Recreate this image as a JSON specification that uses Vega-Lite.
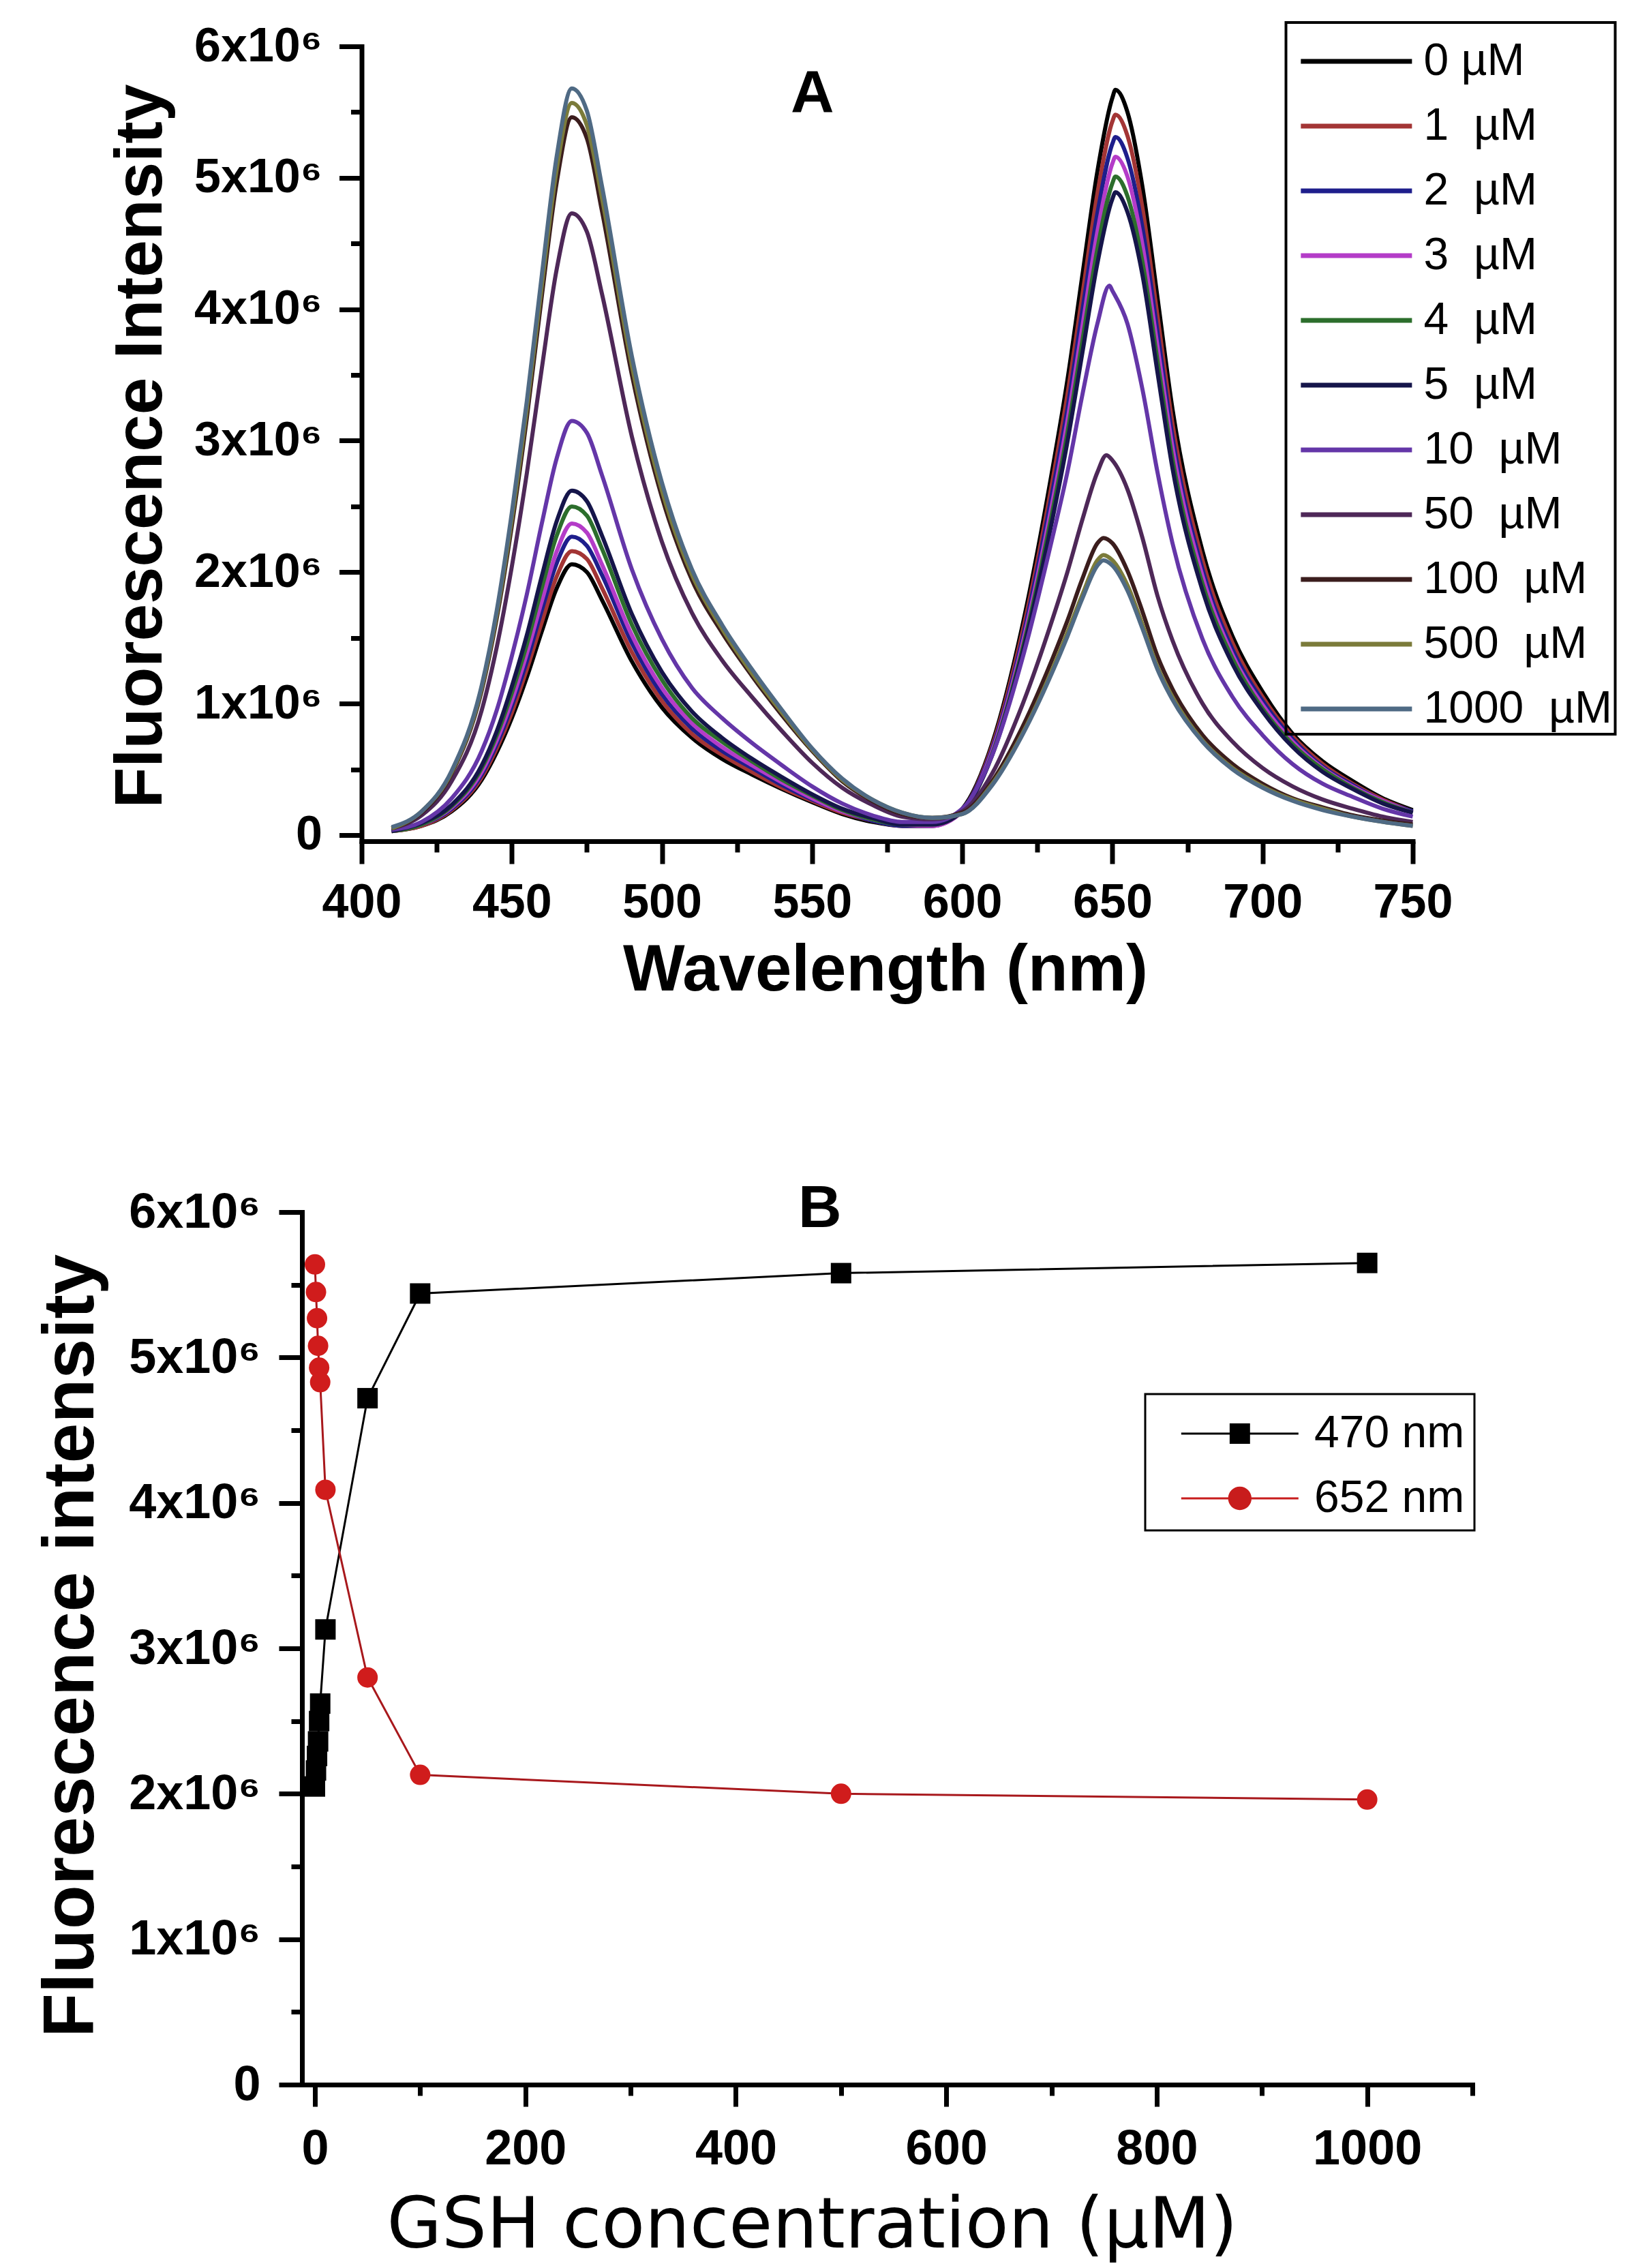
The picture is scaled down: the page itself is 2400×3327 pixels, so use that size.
{
"$schema": "https://vega.github.io/schema/vega-lite/v6.json",
"background": "white",
"padding": {"left": 51, "top": 31, "right": 0, "bottom": 30},
"autosize": {"type": "pad"},
"config": {"view": {"stroke": null}, "axis": {"grid": false, "labelColor": "black", "tickColor": "black", "domainColor": "black", "titleColor": "black"}, "font": "Liberation Sans"},
"spacing": 544,
"bounds": "flush",
"center": true,
"resolve": {"scale": {"color": "independent", "shape": "independent"}, "legend": {"color": "independent", "shape": "independent"}},
"vconcat": [
{
"width": 1542, "height": 1166,
"layer": [
{
"data": {"values": [
{"c":"0","w":410,"v":0.03},{"c":"0","w":420,"v":0.07},{"c":"0","w":430,"v":0.18},{"c":"0","w":440,"v":0.42},{"c":"0","w":445,"v":0.63},{"c":"0","w":450,"v":0.89},{"c":"0","w":455,"v":1.20},{"c":"0","w":460,"v":1.55},{"c":"0","w":465,"v":1.88},{"c":"0","w":470,"v":2.06},{"c":"0","w":475,"v":2.00},{"c":"0","w":480,"v":1.79},{"c":"0","w":490,"v":1.32},{"c":"0","w":500,"v":0.97},{"c":"0","w":510,"v":0.74},{"c":"0","w":520,"v":0.58},{"c":"0","w":530,"v":0.46},{"c":"0","w":540,"v":0.35},{"c":"0","w":550,"v":0.25},{"c":"0","w":560,"v":0.16},{"c":"0","w":570,"v":0.10},{"c":"0","w":580,"v":0.07},{"c":"0","w":590,"v":0.07},{"c":"0","w":600,"v":0.20},{"c":"0","w":610,"v":0.70},{"c":"0","w":620,"v":1.59},{"c":"0","w":630,"v":2.78},{"c":"0","w":635,"v":3.46},{"c":"0","w":640,"v":4.26},{"c":"0","w":645,"v":5.05},{"c":"0","w":650,"v":5.61},{"c":"0","w":651,"v":5.67},{"c":"0","w":655,"v":5.50},{"c":"0","w":660,"v":4.93},{"c":"0","w":665,"v":4.09},{"c":"0","w":670,"v":3.24},{"c":"0","w":680,"v":2.16},{"c":"0","w":690,"v":1.51},{"c":"0","w":700,"v":1.09},{"c":"0","w":710,"v":0.77},{"c":"0","w":720,"v":0.56},{"c":"0","w":730,"v":0.41},{"c":"0","w":740,"v":0.28},{"c":"0","w":750,"v":0.19},
{"c":"1","w":410,"v":0.03},{"c":"1","w":420,"v":0.07},{"c":"1","w":430,"v":0.19},{"c":"1","w":440,"v":0.44},{"c":"1","w":445,"v":0.66},{"c":"1","w":450,"v":0.93},{"c":"1","w":455,"v":1.26},{"c":"1","w":460,"v":1.62},{"c":"1","w":465,"v":1.97},{"c":"1","w":470,"v":2.16},{"c":"1","w":475,"v":2.10},{"c":"1","w":480,"v":1.88},{"c":"1","w":490,"v":1.39},{"c":"1","w":500,"v":1.02},{"c":"1","w":510,"v":0.77},{"c":"1","w":520,"v":0.61},{"c":"1","w":530,"v":0.48},{"c":"1","w":540,"v":0.36},{"c":"1","w":550,"v":0.26},{"c":"1","w":560,"v":0.17},{"c":"1","w":570,"v":0.11},{"c":"1","w":580,"v":0.07},{"c":"1","w":590,"v":0.07},{"c":"1","w":600,"v":0.19},{"c":"1","w":610,"v":0.68},{"c":"1","w":620,"v":1.54},{"c":"1","w":630,"v":2.69},{"c":"1","w":635,"v":3.35},{"c":"1","w":640,"v":4.11},{"c":"1","w":645,"v":4.88},{"c":"1","w":650,"v":5.43},{"c":"1","w":651,"v":5.48},{"c":"1","w":655,"v":5.32},{"c":"1","w":660,"v":4.77},{"c":"1","w":665,"v":3.95},{"c":"1","w":670,"v":3.13},{"c":"1","w":680,"v":2.09},{"c":"1","w":690,"v":1.46},{"c":"1","w":700,"v":1.05},{"c":"1","w":710,"v":0.75},{"c":"1","w":720,"v":0.54},{"c":"1","w":730,"v":0.39},{"c":"1","w":740,"v":0.27},{"c":"1","w":750,"v":0.18},
{"c":"2","w":410,"v":0.03},{"c":"2","w":420,"v":0.08},{"c":"2","w":430,"v":0.20},{"c":"2","w":440,"v":0.46},{"c":"2","w":445,"v":0.69},{"c":"2","w":450,"v":0.98},{"c":"2","w":455,"v":1.32},{"c":"2","w":460,"v":1.71},{"c":"2","w":465,"v":2.07},{"c":"2","w":470,"v":2.27},{"c":"2","w":475,"v":2.20},{"c":"2","w":480,"v":1.98},{"c":"2","w":490,"v":1.46},{"c":"2","w":500,"v":1.07},{"c":"2","w":510,"v":0.81},{"c":"2","w":520,"v":0.64},{"c":"2","w":530,"v":0.51},{"c":"2","w":540,"v":0.38},{"c":"2","w":550,"v":0.27},{"c":"2","w":560,"v":0.18},{"c":"2","w":570,"v":0.11},{"c":"2","w":580,"v":0.07},{"c":"2","w":590,"v":0.07},{"c":"2","w":600,"v":0.19},{"c":"2","w":610,"v":0.66},{"c":"2","w":620,"v":1.49},{"c":"2","w":630,"v":2.61},{"c":"2","w":635,"v":3.24},{"c":"2","w":640,"v":3.99},{"c":"2","w":645,"v":4.73},{"c":"2","w":650,"v":5.26},{"c":"2","w":651,"v":5.31},{"c":"2","w":655,"v":5.15},{"c":"2","w":660,"v":4.62},{"c":"2","w":665,"v":3.83},{"c":"2","w":670,"v":3.03},{"c":"2","w":680,"v":2.02},{"c":"2","w":690,"v":1.41},{"c":"2","w":700,"v":1.02},{"c":"2","w":710,"v":0.73},{"c":"2","w":720,"v":0.52},{"c":"2","w":730,"v":0.38},{"c":"2","w":740,"v":0.26},{"c":"2","w":750,"v":0.18},
{"c":"3","w":410,"v":0.03},{"c":"3","w":420,"v":0.08},{"c":"3","w":430,"v":0.21},{"c":"3","w":440,"v":0.48},{"c":"3","w":445,"v":0.72},{"c":"3","w":450,"v":1.02},{"c":"3","w":455,"v":1.38},{"c":"3","w":460,"v":1.78},{"c":"3","w":465,"v":2.16},{"c":"3","w":470,"v":2.37},{"c":"3","w":475,"v":2.30},{"c":"3","w":480,"v":2.06},{"c":"3","w":490,"v":1.52},{"c":"3","w":500,"v":1.12},{"c":"3","w":510,"v":0.85},{"c":"3","w":520,"v":0.67},{"c":"3","w":530,"v":0.53},{"c":"3","w":540,"v":0.40},{"c":"3","w":550,"v":0.28},{"c":"3","w":560,"v":0.18},{"c":"3","w":570,"v":0.12},{"c":"3","w":580,"v":0.08},{"c":"3","w":590,"v":0.07},{"c":"3","w":600,"v":0.18},{"c":"3","w":610,"v":0.64},{"c":"3","w":620,"v":1.45},{"c":"3","w":630,"v":2.53},{"c":"3","w":635,"v":3.15},{"c":"3","w":640,"v":3.87},{"c":"3","w":645,"v":4.59},{"c":"3","w":650,"v":5.11},{"c":"3","w":651,"v":5.16},{"c":"3","w":655,"v":5.01},{"c":"3","w":660,"v":4.49},{"c":"3","w":665,"v":3.72},{"c":"3","w":670,"v":2.95},{"c":"3","w":680,"v":1.97},{"c":"3","w":690,"v":1.37},{"c":"3","w":700,"v":0.99},{"c":"3","w":710,"v":0.71},{"c":"3","w":720,"v":0.51},{"c":"3","w":730,"v":0.37},{"c":"3","w":740,"v":0.26},{"c":"3","w":750,"v":0.17},
{"c":"4","w":410,"v":0.03},{"c":"4","w":420,"v":0.08},{"c":"4","w":430,"v":0.22},{"c":"4","w":440,"v":0.51},{"c":"4","w":445,"v":0.76},{"c":"4","w":450,"v":1.08},{"c":"4","w":455,"v":1.45},{"c":"4","w":460,"v":1.88},{"c":"4","w":465,"v":2.28},{"c":"4","w":470,"v":2.50},{"c":"4","w":475,"v":2.43},{"c":"4","w":480,"v":2.18},{"c":"4","w":490,"v":1.60},{"c":"4","w":500,"v":1.18},{"c":"4","w":510,"v":0.89},{"c":"4","w":520,"v":0.71},{"c":"4","w":530,"v":0.56},{"c":"4","w":540,"v":0.42},{"c":"4","w":550,"v":0.30},{"c":"4","w":560,"v":0.19},{"c":"4","w":570,"v":0.12},{"c":"4","w":580,"v":0.08},{"c":"4","w":590,"v":0.08},{"c":"4","w":600,"v":0.18},{"c":"4","w":610,"v":0.62},{"c":"4","w":620,"v":1.41},{"c":"4","w":630,"v":2.46},{"c":"4","w":635,"v":3.06},{"c":"4","w":640,"v":3.76},{"c":"4","w":645,"v":4.46},{"c":"4","w":650,"v":4.96},{"c":"4","w":651,"v":5.01},{"c":"4","w":655,"v":4.86},{"c":"4","w":660,"v":4.36},{"c":"4","w":665,"v":3.61},{"c":"4","w":670,"v":2.86},{"c":"4","w":680,"v":1.91},{"c":"4","w":690,"v":1.34},{"c":"4","w":700,"v":0.96},{"c":"4","w":710,"v":0.69},{"c":"4","w":720,"v":0.50},{"c":"4","w":730,"v":0.36},{"c":"4","w":740,"v":0.25},{"c":"4","w":750,"v":0.17},
{"c":"5","w":410,"v":0.03},{"c":"5","w":420,"v":0.09},{"c":"5","w":430,"v":0.23},{"c":"5","w":440,"v":0.53},{"c":"5","w":445,"v":0.79},{"c":"5","w":450,"v":1.13},{"c":"5","w":455,"v":1.52},{"c":"5","w":460,"v":1.97},{"c":"5","w":465,"v":2.39},{"c":"5","w":470,"v":2.62},{"c":"5","w":475,"v":2.54},{"c":"5","w":480,"v":2.28},{"c":"5","w":490,"v":1.68},{"c":"5","w":500,"v":1.24},{"c":"5","w":510,"v":0.94},{"c":"5","w":520,"v":0.74},{"c":"5","w":530,"v":0.58},{"c":"5","w":540,"v":0.44},{"c":"5","w":550,"v":0.31},{"c":"5","w":560,"v":0.20},{"c":"5","w":570,"v":0.13},{"c":"5","w":580,"v":0.08},{"c":"5","w":590,"v":0.08},{"c":"5","w":600,"v":0.18},{"c":"5","w":610,"v":0.61},{"c":"5","w":620,"v":1.38},{"c":"5","w":630,"v":2.40},{"c":"5","w":635,"v":2.99},{"c":"5","w":640,"v":3.67},{"c":"5","w":645,"v":4.35},{"c":"5","w":650,"v":4.84},{"c":"5","w":651,"v":4.89},{"c":"5","w":655,"v":4.74},{"c":"5","w":660,"v":4.26},{"c":"5","w":665,"v":3.52},{"c":"5","w":670,"v":2.79},{"c":"5","w":680,"v":1.86},{"c":"5","w":690,"v":1.30},{"c":"5","w":700,"v":0.94},{"c":"5","w":710,"v":0.67},{"c":"5","w":720,"v":0.48},{"c":"5","w":730,"v":0.35},{"c":"5","w":740,"v":0.24},{"c":"5","w":750,"v":0.17},
{"c":"10","w":410,"v":0.04},{"c":"10","w":420,"v":0.10},{"c":"10","w":430,"v":0.28},{"c":"10","w":440,"v":0.64},{"c":"10","w":445,"v":0.95},{"c":"10","w":450,"v":1.36},{"c":"10","w":455,"v":1.83},{"c":"10","w":460,"v":2.37},{"c":"10","w":465,"v":2.87},{"c":"10","w":470,"v":3.15},{"c":"10","w":475,"v":3.06},{"c":"10","w":480,"v":2.74},{"c":"10","w":490,"v":2.02},{"c":"10","w":500,"v":1.49},{"c":"10","w":510,"v":1.12},{"c":"10","w":520,"v":0.89},{"c":"10","w":530,"v":0.70},{"c":"10","w":540,"v":0.53},{"c":"10","w":550,"v":0.37},{"c":"10","w":560,"v":0.24},{"c":"10","w":570,"v":0.15},{"c":"10","w":580,"v":0.10},{"c":"10","w":590,"v":0.10},{"c":"10","w":600,"v":0.20},{"c":"10","w":610,"v":0.61},{"c":"10","w":620,"v":1.34},{"c":"10","w":630,"v":2.26},{"c":"10","w":635,"v":2.76},{"c":"10","w":640,"v":3.35},{"c":"10","w":645,"v":3.89},{"c":"10","w":649,"v":4.18},{"c":"10","w":650,"v":4.14},{"c":"10","w":655,"v":3.89},{"c":"10","w":660,"v":3.39},{"c":"10","w":665,"v":2.76},{"c":"10","w":670,"v":2.22},{"c":"10","w":680,"v":1.49},{"c":"10","w":690,"v":1.05},{"c":"10","w":700,"v":0.76},{"c":"10","w":710,"v":0.54},{"c":"10","w":720,"v":0.39},{"c":"10","w":730,"v":0.29},{"c":"10","w":740,"v":0.20},{"c":"10","w":750,"v":0.14},
{"c":"50","w":410,"v":0.05},{"c":"50","w":420,"v":0.15},{"c":"50","w":430,"v":0.41},{"c":"50","w":440,"v":0.95},{"c":"50","w":445,"v":1.43},{"c":"50","w":450,"v":2.04},{"c":"50","w":455,"v":2.75},{"c":"50","w":460,"v":3.55},{"c":"50","w":465,"v":4.31},{"c":"50","w":470,"v":4.73},{"c":"50","w":475,"v":4.59},{"c":"50","w":480,"v":4.12},{"c":"50","w":490,"v":3.03},{"c":"50","w":500,"v":2.23},{"c":"50","w":510,"v":1.69},{"c":"50","w":520,"v":1.33},{"c":"50","w":530,"v":1.05},{"c":"50","w":540,"v":0.79},{"c":"50","w":550,"v":0.55},{"c":"50","w":560,"v":0.36},{"c":"50","w":570,"v":0.23},{"c":"50","w":580,"v":0.14},{"c":"50","w":590,"v":0.12},{"c":"50","w":600,"v":0.18},{"c":"50","w":610,"v":0.47},{"c":"50","w":620,"v":0.99},{"c":"50","w":630,"v":1.64},{"c":"50","w":635,"v":2.00},{"c":"50","w":640,"v":2.40},{"c":"50","w":645,"v":2.76},{"c":"50","w":648,"v":2.89},{"c":"50","w":650,"v":2.85},{"c":"50","w":655,"v":2.63},{"c":"50","w":660,"v":2.26},{"c":"50","w":665,"v":1.82},{"c":"50","w":670,"v":1.48},{"c":"50","w":680,"v":1.00},{"c":"50","w":690,"v":0.71},{"c":"50","w":700,"v":0.51},{"c":"50","w":710,"v":0.37},{"c":"50","w":720,"v":0.27},{"c":"50","w":730,"v":0.20},{"c":"50","w":740,"v":0.14},{"c":"50","w":750,"v":0.10},
{"c":"100","w":410,"v":0.05},{"c":"100","w":420,"v":0.17},{"c":"100","w":430,"v":0.47},{"c":"100","w":440,"v":1.10},{"c":"100","w":445,"v":1.65},{"c":"100","w":450,"v":2.35},{"c":"100","w":455,"v":3.17},{"c":"100","w":460,"v":4.10},{"c":"100","w":465,"v":4.97},{"c":"100","w":470,"v":5.46},{"c":"100","w":475,"v":5.30},{"c":"100","w":480,"v":4.75},{"c":"100","w":490,"v":3.50},{"c":"100","w":500,"v":2.57},{"c":"100","w":510,"v":1.94},{"c":"100","w":520,"v":1.54},{"c":"100","w":530,"v":1.21},{"c":"100","w":540,"v":0.91},{"c":"100","w":550,"v":0.64},{"c":"100","w":560,"v":0.41},{"c":"100","w":570,"v":0.26},{"c":"100","w":580,"v":0.16},{"c":"100","w":590,"v":0.13},{"c":"100","w":600,"v":0.17},{"c":"100","w":610,"v":0.41},{"c":"100","w":620,"v":0.82},{"c":"100","w":630,"v":1.34},{"c":"100","w":635,"v":1.63},{"c":"100","w":640,"v":1.95},{"c":"100","w":645,"v":2.22},{"c":"100","w":647,"v":2.26},{"c":"100","w":650,"v":2.22},{"c":"100","w":655,"v":2.01},{"c":"100","w":660,"v":1.70},{"c":"100","w":665,"v":1.36},{"c":"100","w":670,"v":1.11},{"c":"100","w":680,"v":0.76},{"c":"100","w":690,"v":0.54},{"c":"100","w":700,"v":0.39},{"c":"100","w":710,"v":0.28},{"c":"100","w":720,"v":0.21},{"c":"100","w":730,"v":0.15},{"c":"100","w":740,"v":0.11},{"c":"100","w":750,"v":0.08},
{"c":"500","w":410,"v":0.05},{"c":"500","w":420,"v":0.18},{"c":"500","w":430,"v":0.48},{"c":"500","w":440,"v":1.12},{"c":"500","w":445,"v":1.68},{"c":"500","w":450,"v":2.40},{"c":"500","w":455,"v":3.24},{"c":"500","w":460,"v":4.18},{"c":"500","w":465,"v":5.07},{"c":"500","w":470,"v":5.57},{"c":"500","w":475,"v":5.40},{"c":"500","w":480,"v":4.85},{"c":"500","w":490,"v":3.57},{"c":"500","w":500,"v":2.62},{"c":"500","w":510,"v":1.98},{"c":"500","w":520,"v":1.57},{"c":"500","w":530,"v":1.23},{"c":"500","w":540,"v":0.93},{"c":"500","w":550,"v":0.65},{"c":"500","w":560,"v":0.42},{"c":"500","w":570,"v":0.27},{"c":"500","w":580,"v":0.17},{"c":"500","w":590,"v":0.13},{"c":"500","w":600,"v":0.16},{"c":"500","w":610,"v":0.39},{"c":"500","w":620,"v":0.77},{"c":"500","w":630,"v":1.26},{"c":"500","w":635,"v":1.54},{"c":"500","w":640,"v":1.83},{"c":"500","w":645,"v":2.09},{"c":"500","w":647,"v":2.13},{"c":"500","w":650,"v":2.09},{"c":"500","w":655,"v":1.90},{"c":"500","w":660,"v":1.60},{"c":"500","w":665,"v":1.28},{"c":"500","w":670,"v":1.05},{"c":"500","w":680,"v":0.72},{"c":"500","w":690,"v":0.51},{"c":"500","w":700,"v":0.37},{"c":"500","w":710,"v":0.27},{"c":"500","w":720,"v":0.20},{"c":"500","w":730,"v":0.14},{"c":"500","w":740,"v":0.10},{"c":"500","w":750,"v":0.07},
{"c":"1000","w":410,"v":0.06},{"c":"1000","w":420,"v":0.18},{"c":"1000","w":430,"v":0.49},{"c":"1000","w":440,"v":1.14},{"c":"1000","w":445,"v":1.71},{"c":"1000","w":450,"v":2.45},{"c":"1000","w":455,"v":3.30},{"c":"1000","w":460,"v":4.26},{"c":"1000","w":465,"v":5.17},{"c":"1000","w":470,"v":5.68},{"c":"1000","w":475,"v":5.51},{"c":"1000","w":480,"v":4.94},{"c":"1000","w":490,"v":3.64},{"c":"1000","w":500,"v":2.68},{"c":"1000","w":510,"v":2.02},{"c":"1000","w":520,"v":1.60},{"c":"1000","w":530,"v":1.26},{"c":"1000","w":540,"v":0.95},{"c":"1000","w":550,"v":0.66},{"c":"1000","w":560,"v":0.43},{"c":"1000","w":570,"v":0.27},{"c":"1000","w":580,"v":0.17},{"c":"1000","w":590,"v":0.13},{"c":"1000","w":600,"v":0.16},{"c":"1000","w":610,"v":0.38},{"c":"1000","w":620,"v":0.76},{"c":"1000","w":630,"v":1.24},{"c":"1000","w":635,"v":1.51},{"c":"1000","w":640,"v":1.80},{"c":"1000","w":645,"v":2.05},{"c":"1000","w":647,"v":2.09},{"c":"1000","w":650,"v":2.05},{"c":"1000","w":655,"v":1.86},{"c":"1000","w":660,"v":1.57},{"c":"1000","w":665,"v":1.26},{"c":"1000","w":670,"v":1.03},{"c":"1000","w":680,"v":0.71},{"c":"1000","w":690,"v":0.50},{"c":"1000","w":700,"v":0.36},{"c":"1000","w":710,"v":0.26},{"c":"1000","w":720,"v":0.19},{"c":"1000","w":730,"v":0.14},{"c":"1000","w":740,"v":0.10},{"c":"1000","w":750,"v":0.07}
]},
"mark": {"type": "line", "strokeWidth": 6, "interpolate": "monotone"},
"encoding": {
"x": {"field": "w", "type": "quantitative", "scale": {"domain": [400, 750], "nice": false, "zero": false},
"axis": {"orient": "bottom", "values": [400,450,500,550,600,650,700,750], "format": "d", "labelFont": "Liberation Sans", "labelFontSize": 70, "labelFontWeight": "bold", "labelPadding": 23, "labelFlush": false, "labelOverlap": false, "labelLimit": 0, "tickSize": 33, "tickWidth": 7, "domainWidth": 7, "domainCap": "square", "title": "Wavelength (nm)", "titleFont": "Liberation Sans", "titleFontSize": 96, "titleFontWeight": "bold", "titleX": 768, "titleY": 218, "titleBaseline": "alphabetic", "titleAlign": "center"}},
"y": {"field": "v", "type": "quantitative", "scale": {"domain": [-0.047, 6], "nice": false, "zero": false},
"axis": {"orient": "left", "values": [0,1,2,3,4,5,6], "labelExpr": "datum.value == 0 ? '0' : datum.value + 'x10⁶'", "labelFont": "Liberation Sans", "labelFontSize": 70, "labelFontWeight": "bold", "labelPadding": 25, "labelFlush": false, "labelOverlap": false, "labelLimit": 0, "tickSize": 33, "tickWidth": 7, "domainWidth": 7, "domainCap": "square", "title": "Fluorescence Intensity", "titleFont": "Liberation Sans", "titleFontSize": 98, "titleFontWeight": "bold", "titleX": -294, "titleY": 586, "titleBaseline": "alphabetic", "titleAlign": "center", "titleAngle": 270}},
"color": {"field": "c", "type": "nominal",
"scale": {"domain": ["0","1","2","3","4","5","10","50","100","500","1000"], "range": ["#000000","#a33535","#1e1e8c","#b43cc8","#2c6e2c","#15154a","#6436a8","#4e2858","#3b1d1d","#7b7b3a","#4f6a84"]},
"legend": {"orient": "none", "legendX": 1356, "legendY": -35, "title": " ", "titleFontSize": 20, "titlePadding": 0, "symbolType": "M-0.93,0H9.07", "symbolSize": 1063, "symbolStrokeWidth": 7, "labelFont": "Liberation Sans", "labelFontSize": 66, "labelColor": "black", "labelOffset": 132, "labelLimit": 0, "rowPadding": 29, "padding": 4, "strokeColor": "black",
"labelExpr": "datum.label == '0' ? '0\u00a0µM' : datum.label == '1000' ? '1000\u00a0\u00a0µM\u00a0\u00a0' : datum.label + '\u00a0\u00a0µM'",
"encode": {"legend": {"update": {"strokeWidth": {"value": 4}}}}}}
}
},
{
"data": {"values": [{"t": "A", "w": 550.1, "v": 5.637}]},
"mark": {"type": "text", "font": "Liberation Sans", "fontSize": 88, "fontWeight": "bold", "align": "center", "baseline": "middle", "color": "black"},
"encoding": {"x": {"field": "w", "type": "quantitative", "axis": null}, "y": {"field": "v", "type": "quantitative", "axis": null}, "text": {"field": "t"}}
},
{
"data": {"values": []},
"mark": {"type": "point", "opacity": 0},
"encoding": {
"x": {"field": "w", "type": "quantitative", "axis": {"orient": "bottom", "values": [425,475,525,575,625,675,725], "labels": false, "domain": false, "title": null, "tickSize": 16, "tickWidth": 7}},
"y": {"field": "v", "type": "quantitative", "axis": {"orient": "left", "values": [0.5,1.5,2.5,3.5,4.5,5.5], "labels": false, "domain": false, "title": null, "tickSize": 16, "tickWidth": 7}}
}
}
],
"resolve": {"axis": {"x": "independent", "y": "independent"}}
},
{
"width": 1717, "height": 1280,
"data": {"values": [
{"s":"470 nm","x":0,"y":2.05},{"s":"470 nm","x":1,"y":2.16},{"s":"470 nm","x":2,"y":2.26},{"s":"470 nm","x":3,"y":2.36},{"s":"470 nm","x":4,"y":2.50},{"s":"470 nm","x":5,"y":2.62},{"s":"470 nm","x":10,"y":3.13},{"s":"470 nm","x":50,"y":4.72},{"s":"470 nm","x":100,"y":5.44},{"s":"470 nm","x":500,"y":5.58},{"s":"470 nm","x":1000,"y":5.65},
{"s":"652 nm","x":0,"y":5.64},{"s":"652 nm","x":1,"y":5.45},{"s":"652 nm","x":2,"y":5.27},{"s":"652 nm","x":3,"y":5.08},{"s":"652 nm","x":4,"y":4.93},{"s":"652 nm","x":5,"y":4.83},{"s":"652 nm","x":10,"y":4.09},{"s":"652 nm","x":50,"y":2.80},{"s":"652 nm","x":100,"y":2.13},{"s":"652 nm","x":500,"y":2.00},{"s":"652 nm","x":1000,"y":1.96}
]},
"layer": [
{
"transform": [{"filter": "datum.s == '470 nm'"}],
"mark": {"type": "line", "color": "#000000", "strokeWidth": 3},
"encoding": {
"x": {"field": "x", "type": "quantitative", "scale": {"domain": [-12.3, 1100], "nice": false, "zero": false},
"axis": {"orient": "bottom", "values": [0,200,400,600,800,1000], "format": "d", "labelFont": "Liberation Sans", "labelFontSize": 72, "labelFontWeight": "bold", "labelPadding": 27, "labelFlush": false, "labelOverlap": false, "labelLimit": 0, "tickSize": 32, "tickWidth": 7, "domainWidth": 7, "domainCap": "square", "title": "GSH concentration (μM)", "titleFont": "DejaVu Sans", "titleFontSize": 104, "titleFontWeight": "normal", "titleX": 748, "titleY": 238, "titleBaseline": "alphabetic", "titleAlign": "center"}},
"y": {"field": "y", "type": "quantitative", "scale": {"domain": [0, 6], "nice": false, "zero": false},
"axis": {"orient": "left", "values": [0,1,2,3,4,5,6], "labelExpr": "datum.value == 0 ? '0' : datum.value + 'x10⁶'", "labelFont": "Liberation Sans", "labelFontSize": 72, "labelFontWeight": "bold", "labelPadding": 27, "labelFlush": false, "labelOverlap": false, "labelLimit": 0, "tickSize": 34, "tickWidth": 7, "domainWidth": 7, "domainCap": "square", "title": "Fluorescence intensity", "titleFont": "Liberation Sans", "titleFontSize": 106, "titleFontWeight": "bold", "titleX": -307, "titleY": 636, "titleBaseline": "alphabetic", "titleAlign": "center", "titleAngle": 270}}
}
},
{
"transform": [{"filter": "datum.s == '652 nm'"}],
"mark": {"type": "line", "color": "#a8181c", "strokeWidth": 3},
"encoding": {"x": {"field": "x", "type": "quantitative", "axis": null}, "y": {"field": "y", "type": "quantitative", "axis": null}}
},
{
"transform": [{"filter": "datum.s == '470 nm'"}],
"mark": {"type": "point", "shape": "square", "filled": true, "color": "#000000", "size": 900, "opacity": 1},
"encoding": {"x": {"field": "x", "type": "quantitative", "axis": null}, "y": {"field": "y", "type": "quantitative", "axis": null}}
},
{
"transform": [{"filter": "datum.s == '652 nm'"}],
"mark": {"type": "point", "shape": "circle", "filled": true, "color": "#d01c1c", "size": 900, "opacity": 1},
"encoding": {"x": {"field": "x", "type": "quantitative", "axis": null}, "y": {"field": "y", "type": "quantitative", "axis": null}}
},
{
"data": {"values": [{"t": "B", "x": 479.9, "y": 6.019}]},
"mark": {"type": "text", "font": "Liberation Sans", "fontSize": 88, "fontWeight": "bold", "align": "center", "baseline": "middle", "color": "black"},
"encoding": {"x": {"field": "x", "type": "quantitative", "axis": null}, "y": {"field": "y", "type": "quantitative", "axis": null}, "text": {"field": "t"}}
},
{
"mark": {"type": "point", "filled": true, "opacity": 0, "size": 1183},
"encoding": {
"x": {"field": "x", "type": "quantitative", "axis": null},
"y": {"field": "y", "type": "quantitative", "axis": null},
"color": {"field": "s", "type": "nominal", "scale": {"domain": ["470 nm", "652 nm"], "range": ["#000000", "#c81c1c"]},
"legend": {"orient": "none", "legendX": 1237, "legendY": 267, "title": " ", "titleFontSize": 11, "titlePadding": 0, "symbolSize": 1183, "symbolOpacity": 1, "symbolStrokeWidth": 0, "labelFont": "Liberation Sans", "labelFontSize": 66, "labelColor": "black", "labelOffset": 168, "labelLimit": 0, "rowPadding": 29, "padding": 14, "strokeColor": "black", "labelExpr": "datum.label + '\u00a0\u00a0'", "encode": {"legend": {"update": {"strokeWidth": {"value": 3}}}}}},
"shape": {"field": "s", "type": "nominal", "scale": {"domain": ["470 nm", "652 nm"], "range": ["M0.34,-0.09H10.34V0.09H0.34Z M4.47,-0.87H6.21V0.87H4.47Z", "M0.34,-0.09H10.34V0.09H0.34Z M4.34,0A1,1 0 1,1 6.34,0A1,1 0 1,1 4.34,0Z"]},
"legend": {"orient": "none", "legendX": 1237, "legendY": 267, "title": " ", "titleFontSize": 11, "titlePadding": 0, "symbolSize": 1183, "symbolOpacity": 1, "symbolStrokeWidth": 0, "labelFont": "Liberation Sans", "labelFontSize": 66, "labelColor": "black", "labelOffset": 168, "labelLimit": 0, "rowPadding": 29, "padding": 14, "strokeColor": "black", "labelExpr": "datum.label + '\u00a0\u00a0'", "encode": {"legend": {"update": {"strokeWidth": {"value": 3}}}}}}
}
},
{
"data": {"values": []},
"mark": {"type": "point", "opacity": 0},
"encoding": {
"x": {"field": "x", "type": "quantitative", "axis": {"orient": "bottom", "values": [100,300,500,700,900,1100], "labels": false, "domain": false, "title": null, "tickSize": 16, "tickWidth": 7}},
"y": {"field": "y", "type": "quantitative", "axis": {"orient": "left", "values": [0.5,1.5,2.5,3.5,4.5,5.5], "labels": false, "domain": false, "title": null, "tickSize": 16, "tickWidth": 7}}
}
}
],
"resolve": {"axis": {"x": "independent", "y": "independent"}}
}
]
}
